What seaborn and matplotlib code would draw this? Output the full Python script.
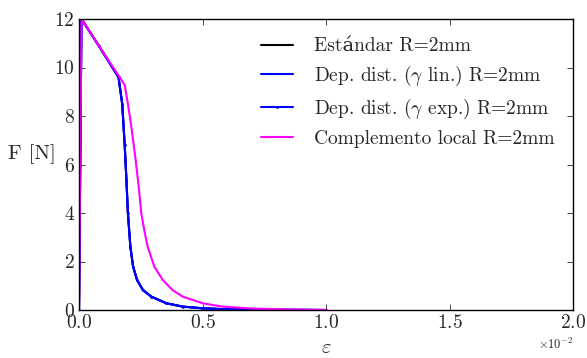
import numpy as np
import pandas as pd
import seaborn as sns
import matplotlib
matplotlib.use("Agg")
import matplotlib.pyplot as plt
from matplotlib.ticker import ScalarFormatter

# data
eps_std = [0, 0.0001, 0.0008, 0.0016, 0.00175, 0.00185, 0.00192, 0.00198, 0.00208, 0.00219, 0.00235,
           0.00259, 0.00293, 0.00353, 0.0042, 0.005, 0.006, 0.008, 0.01]
f_std = [0, 12.0, 10.9, 9.6, 8.5, 6.8, 5.36, 4.0, 2.61, 1.79, 1.24,
         0.82, 0.55, 0.28, 0.14, 0.07, 0.03, 0.01, 0.0]

eps_lin = eps_std
f_lin = f_std

eps_exp = eps_std
f_exp = f_std

eps_loc = [0, 0.0001, 0.0008, 0.0016, 0.00185, 0.00198, 0.00212, 0.00228, 0.00242, 0.00252, 0.00265,
           0.00278, 0.00305, 0.00339, 0.00379, 0.0042, 0.005, 0.0058, 0.007, 0.0085, 0.01]
f_loc = [0, 12.0, 10.9, 9.67, 9.28, 8.5, 7.56, 6.3, 5.07, 4.0, 3.25,
         2.61, 1.79, 1.24, 0.82, 0.55, 0.28, 0.14, 0.06, 0.02, 0.0]

labels = ["Est\u00e1ndar R=2mm",
          r"Dep. dist. ($\gamma$ lin.) R=2mm",
          r"Dep. dist. ($\gamma$ exp.) R=2mm",
          "Complemento local R=2mm"]

sns.set_style("ticks")
plt.rcParams["font.family"] = ["cmr10", "DejaVu Serif"]
plt.rcParams["mathtext.fontset"] = "cm"
plt.rcParams["axes.formatter.use_mathtext"] = True
plt.rcParams["axes.unicode_minus"] = True

fig = plt.figure(figsize=(5.87, 3.58), dpi=100)
ax = fig.add_axes([79 / 587, 48 / 358, 494 / 587, 291 / 358])

sns.lineplot(x=eps_std, y=f_std, color="black", lw=1.5, label=labels[0], ax=ax, sort=False)
sns.lineplot(x=eps_lin, y=f_lin, color="blue", lw=1.5, label=labels[1], ax=ax, sort=False)
sns.lineplot(x=eps_exp, y=f_exp, color="blue", lw=1.5, marker="o", markersize=2, markeredgewidth=0,
             label=labels[2], ax=ax, sort=False)
sns.lineplot(x=eps_loc, y=f_loc, color="magenta", lw=1.5, label=labels[3], ax=ax, sort=False)

ax.set_xlim(0, 0.02)
ax.set_ylim(0, 12)
ax.set_xticks([0, 0.005, 0.01, 0.015, 0.02])
ax.set_yticks([0, 2, 4, 6, 8, 10, 12])
fmt = ScalarFormatter(useMathText=True)
fmt.set_powerlimits((-1, 1))
ax.xaxis.set_major_formatter(fmt)
ax.tick_params(direction="in", top=True, right=True, labelsize=14, length=4, width=0.6, pad=3)
ax.xaxis.get_offset_text().set_fontsize(9)
for s in ax.spines.values():
    s.set_linewidth(1.0)
    s.set_color("black")

ax.set_xlabel(r"$\varepsilon$", fontsize=15)
ax.xaxis.set_label_coords(0.5, -0.1)
ax.set_ylabel("F [N]", fontsize=15, rotation=0)
ax.yaxis.set_label_coords(-0.095, 0.5)

leg = ax.legend(loc="upper right", frameon=False, fontsize=14, handlelength=1.6, handletextpad=1.1,
                borderaxespad=0.55, labelspacing=0.45)

fig.savefig("out.png", dpi=100)
